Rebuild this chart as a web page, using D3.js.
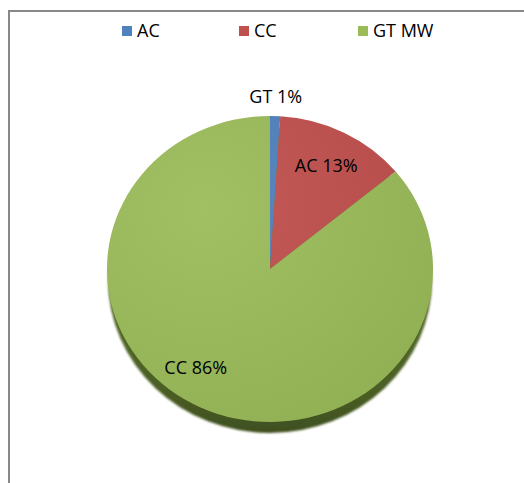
<!DOCTYPE html>
<html><head><meta charset="utf-8">
<script src="https://cdn.jsdelivr.net/npm/d3@7"></script>
<style>
html,body{margin:0;padding:0;background:#fff;}
svg{display:block;}
</style></head>
<body>
<svg id="chart" width="524" height="483"></svg>
<script>
// ---- data ----
const legendNames = ["AC", "CC", "GT MW"];
const sliceValues = [1, 13, 86];
const sliceLabels = ["GT 1%", "AC 13%", "CC 86%"];
const sliceColors = ["#4F81BD", "#C0504D", "#9BBB59"];

// ---- layout ----
const W = 524, H = 483;
const cx = 270, cy = 269, rx = 163, ry = 153;
const sy = ry / rx;
const font = "'Open Sans', 'DejaVu Sans', sans-serif";
const labelRadius = [1.13, 0.76, 0.79];
const labelAngleShift = [0, 0, 10 * Math.PI / 180];

const svg = d3.select("#chart");
const defs = svg.append("defs");

// frame
svg.append("line").attr("x1", 8).attr("x2", W).attr("y1", 11).attr("y2", 11)
  .attr("stroke", "#888").attr("stroke-width", 2);
svg.append("line").attr("x1", 9).attr("x2", 9).attr("y1", 10).attr("y2", H)
  .attr("stroke", "#888").attr("stroke-width", 2);

// legend
const legX = [122, 239, 358];
const leg = svg.append("g");
legendNames.forEach((n, i) => {
  leg.append("rect").attr("x", legX[i]).attr("y", 26).attr("width", 10).attr("height", 10)
    .attr("fill", sliceColors[i]);
  leg.append("text").attr("x", legX[i] + 15).attr("y", 31).attr("dy", "0.36em")
    .attr("font-family", font).attr("font-size", 18).attr("fill", "#000").text(n);
});

// gradients
sliceColors.forEach((c, i) => {
  const g = defs.append("linearGradient").attr("id", "g" + i)
    .attr("x1", "0").attr("y1", "0").attr("x2", "1").attr("y2", "1");
  g.append("stop").attr("offset", "0%").attr("stop-color", d3.color(c).brighter(0.12));
  g.append("stop").attr("offset", "100%").attr("stop-color", d3.color(c).darker(0.12));
});
const sg = defs.append("linearGradient").attr("id", "side")
  .attr("x1", 0).attr("y1", 0).attr("x2", 0).attr("y2", 1);
sg.append("stop").attr("offset", "0%").attr("stop-color", "#6f8c3a");
sg.append("stop").attr("offset", "85%").attr("stop-color", "#4b5f25");
sg.append("stop").attr("offset", "100%").attr("stop-color", "#3f4f1f");
defs.append("filter").attr("id", "blur").append("feGaussianBlur").attr("stdDeviation", 1);

// side / depth
svg.append("ellipse").attr("cx", cx).attr("cy", cy + 11).attr("rx", rx - 1).attr("ry", ry)
  .attr("fill", "url(#side)").attr("filter", "url(#blur)");

// pie
const pie = d3.pie().sort(null).value(d => d)(sliceValues);
const arc = d3.arc().innerRadius(0).outerRadius(rx);
const pg = svg.append("g").attr("transform", `translate(${cx},${cy}) scale(1,${sy})`);
pg.selectAll("path").data(pie).join("path")
  .attr("d", arc)
  .attr("fill", (d, i) => sliceColors[i]);

// subtle shading overlay
const rg = defs.append("radialGradient").attr("id", "shade")
  .attr("cx", "30%").attr("cy", "30%").attr("r", "80%");
rg.append("stop").attr("offset", "0%").attr("stop-color", "#fff").attr("stop-opacity", 0.06);
rg.append("stop").attr("offset", "100%").attr("stop-color", "#000").attr("stop-opacity", 0.06);
pg.append("circle").attr("r", rx).attr("fill", "url(#shade)");

// labels
pie.forEach((d, i) => {
  const a = (d.startAngle + d.endAngle) / 2 + labelAngleShift[i];
  const r = labelRadius[i] * rx;
  const x = cx + Math.sin(a) * r;
  const y = cy - Math.cos(a) * r * sy;
  svg.append("text").attr("x", x).attr("y", y).attr("dy", "0.36em")
    .attr("text-anchor", "middle").attr("font-family", font).attr("font-size", 18)
    .attr("fill", "#000").text(sliceLabels[i]);
});
</script>
</body></html>
